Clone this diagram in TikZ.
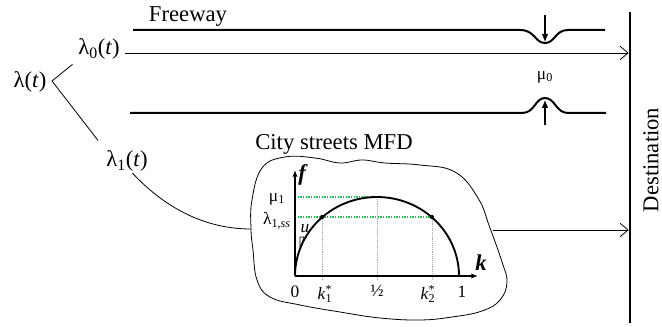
\documentclass[tikz,border=0pt]{standalone}
\usepackage{fontspec}
\setmainfont{Liberation Serif}
\usetikzlibrary{arrows.meta}
\definecolor{mfdgreen}{RGB}{30,185,80}

\begin{document}
\begin{tikzpicture}[x=0.75pt,y=-0.75pt,>={Latex[length=6pt,width=5pt]},
  every node/.style={inner sep=1pt,font=\fontsize{17}{20}\selectfont},
  small/.style={font=\fontsize{13}{15}\selectfont},
  road/.style={line width=1.5pt},
  flow/.style={line width=0.6pt,-{Straight Barb[length=6pt,width=10pt]}},
  axis/.style={line width=1.4pt,-{Latex[length=5pt,width=4pt]}},
  guide/.style={densely dotted,line width=1pt,mfdgreen},
  tick/.style={densely dotted,gray!70}]
  \useasboundingbox (0,0) rectangle (662,327);
  % Draw destination bar
  \node[fill=black,inner sep=0,minimum width=1.5pt,minimum height=233.25pt] (dest) at (630,167.5) {};
  \node[rotate=90,inner sep=0pt] (destlbl) at (651,160) {Destination};
  % Draw demand split
  \node (lam) at (30,82) {λ(\textit{t})};
  \node (lam0) at (99,49) {λ\textsubscript{0}(\textit{t})};
  \node (lam1) at (127,161) {λ\textsubscript{1}(\textit{t})};
  \coordinate (fork) at (52,81);
  \draw[line width=0.6pt,shorten <=4pt,shorten >=8pt] (lam0.south west) -- (fork) -- (lam1.north west);
  % Draw freeway with bottleneck
  \node (fwy) at (188,17) {Freeway};
  \draw[road] (133,30) -- (520,30) .. controls (535,30) and (535,43) .. (545,43)
    .. controls (555,43) and (555,30) .. (568,30) -- (605,30);
  \draw[road] (130,113) -- (522,113) .. controls (535,113) and (535,98) .. (545,98)
    .. controls (555,98) and (556,113) .. (568,113) -- (606,113);
  \node[small] (mu0) at (545,77) {μ\textsubscript{0}};
  \coordinate (pin0) at (545,15);
  \coordinate (dip0) at (545,42);
  \coordinate (pin1) at (545,125);
  \coordinate (dip1) at (545,100);
  \draw[->,line width=0.8pt] (pin0) -- (dip0);
  \draw[->,line width=0.8pt] (pin1) -- (dip1);
  \coordinate (a0) at ([yshift=-3pt]lam0.east);
  \draw[flow,shorten <=3pt] (a0) -- (a0 -| dest.west);
  % Draw city region
  \node (city) at (334,144) {City streets MFD};
  \draw[line width=0.6pt] plot[smooth cycle,tension=0.7] coordinates {
    (262,168) (285,157) (315,158) (340,163) (362,160) (385,163) (420,165)
    (455,172) (478,198) (490,228) (502,262) (507,282) (500,300) (482,311)
    (452,317) (420,320) (380,318) (340,312) (300,305) (270,297) (257,280)
    (253,250) (251,229) (252,200)};
  \coordinate (blobW) at (251,229);
  \coordinate (blobE) at (493,230);
  \draw[line width=0.6pt] ([xshift=4pt]lam1.south) .. controls (165,208) and (205,229) .. (blobW);
  \draw[flow] (blobE) -- (blobE -| dest.west);
  % Draw MFD curve
  \coordinate (o) at (295,276);
  \coordinate (q1) at ({377+82*cos(132)},217);
  \coordinate (q2) at ({377+82*cos(48)},217);
  \coordinate (top) at (377,197);
  \draw[tick] (q1) -- (q1 |- 0,280);
  \draw[tick] (top) -- (top |- 0,280);
  \draw[tick] (q2) -- (q2 |- 0,280);
  \draw[guide] (o |- top) -- (top);
  \draw[guide] (o |- q1) -- (q2);
  \draw[line width=1.4pt] plot[domain=180:0,samples=60] ({377+82*cos(\x)},{276-79*sin(\x)});
  \fill (q1) circle (1.6pt);
  \fill (q2) circle (1.6pt);
  \draw[axis] (o) -- (295,170);
  \draw[axis] (o) -- (478,276);
  \node (flbl) at (303,175) {\textbf{\textit{f}}};
  \node (klbl) at (481,263) {\textbf{\textit{k}}};
  \node[small] (mu1) at (277,199) {μ\textsubscript{1}};
  \node[small] (lamss) at (277,221) {λ\textsubscript{1,\textit{ss}}};
  \node[small] (u) at (305,229) {\textit{u}};
  \draw[line width=0.4pt] (300,237) -- (300,249) -- (304,237) -- cycle;
  \node[small] (t0) at (295,292) {0};
  \node[small] (tk1) at (325,294) {\textit{k}\rlap{\textsuperscript{*}}\textsubscript{1}};
  \node[small] (thalf) at (377,291) {½};
  \node[small] (tk2) at (428,294) {\textit{k}\rlap{\textsuperscript{*}}\textsubscript{2}};
  \node[small] (t1) at (462,292) {1};
\end{tikzpicture}
\end{document}
